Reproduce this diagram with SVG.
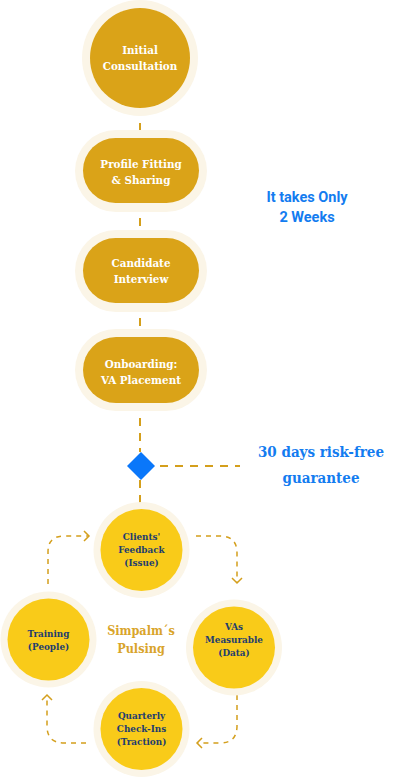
<svg xmlns="http://www.w3.org/2000/svg" width="404" height="778" viewBox="0 0 404 778">
<style>
.ring{fill:#fbf5e7}
.dk{fill:#daa318}
.yl{fill:#f9cb19}
.wt{font-family:"Roboto Slab","DejaVu Serif","Liberation Serif",serif;font-weight:bold;font-size:11.5px;fill:#ffffff;text-anchor:middle;font-stretch:condensed}
.nv{font-family:"Roboto Slab","DejaVu Serif","Liberation Serif",serif;font-weight:bold;font-size:9.8px;fill:#1e3d6f;text-anchor:middle;font-stretch:condensed}
.bl{font-family:"Roboto Slab","DejaVu Serif","Liberation Serif",serif;font-weight:bold;font-size:15px;fill:#137cf0;text-anchor:middle;font-stretch:condensed}
.bs{font-family:Roboto,"Liberation Sans",sans-serif;font-weight:bold;font-size:14.5px;fill:#137cf0;text-anchor:middle}
.gd{font-family:"Roboto Slab","DejaVu Serif","Liberation Serif",serif;font-weight:bold;font-size:12.5px;fill:#d9a42a;text-anchor:middle;font-stretch:condensed}
.main{stroke:#d49f1c;stroke-width:2;fill:none;stroke-dasharray:8 7}
.loop{stroke:#d49f1c;stroke-width:1.5;fill:none;stroke-dasharray:5 5}
.head{stroke:#d49f1c;stroke-width:1.5;fill:none}
</style>

<g id="connectors">
  <path class="main" d="M140 108 V138 M140 203 V238 M140 303 V337 M140 403 V452 M140 480 V509"/>
  <path class="main" d="M160 466 H240" stroke-dasharray="10 7"/>
  <path class="loop" d="M48 584 V552 Q48 536 64 536 H88"/>
  <path class="head" d="M84 531 L89 536 L84 541"/>
  <path class="loop" d="M196 536 H220 Q237 536 237 553 V583"/>
  <path class="head" d="M232 578 L237 583 L242 578"/>
  <path class="loop" d="M237 695 V726 Q237 743 220 743 H198"/>
  <path class="head" d="M202 738 L197 743 L202 748"/>
  <path class="loop" d="M86 743 H64 Q47 743 47 726 V696"/>
  <path class="head" d="M42 700 L47 695 L52 700"/>
</g>

<g id="diamond">
  <path d="M141 452 L155 466 L141 480 L127 466 Z" fill="#0a77fa"/>
</g>

<g id="node-initial">
  <circle class="ring" cx="140" cy="58" r="58"/>
  <circle class="dk" cx="140" cy="58" r="50"/>
  <text class="wt" x="140" y="54">Initial</text>
  <text class="wt" x="140" y="70">Consultation</text>
</g>

<g id="node-profile">
  <rect class="ring" x="75" y="130" width="132" height="82" rx="41"/>
  <rect class="dk" x="83" y="138" width="116" height="65" rx="32.5"/>
  <text class="wt" x="141" y="168">Profile Fitting</text>
  <text class="wt" x="141" y="184">&amp; Sharing</text>
</g>

<g id="node-interview">
  <rect class="ring" x="75" y="230" width="132" height="82" rx="41"/>
  <rect class="dk" x="83" y="238" width="116" height="65" rx="32.5"/>
  <text class="wt" x="141" y="267">Candidate</text>
  <text class="wt" x="141" y="283">Interview</text>
</g>

<g id="node-onboarding">
  <rect class="ring" x="75" y="329" width="132" height="82" rx="41"/>
  <rect class="dk" x="83" y="337" width="116" height="66" rx="33"/>
  <text class="wt" x="141" y="368">Onboarding:</text>
  <text class="wt" x="141" y="384">VA Placement</text>
</g>

<g id="label-weeks">
  <text class="bs" x="307" y="202">It takes Only</text>
  <text class="bs" x="307" y="222">2 Weeks</text>
</g>

<g id="label-guarantee">
  <text class="bl" x="321" y="457">30 days risk-free</text>
  <text class="bl" x="321" y="483">guarantee</text>
</g>

<g id="node-feedback">
  <circle class="ring" cx="141.5" cy="550" r="48"/>
  <circle class="yl" cx="141.5" cy="550" r="41"/>
  <text class="nv" x="141.5" y="540">Clients'</text>
  <text class="nv" x="141.5" y="553">Feedback</text>
  <text class="nv" x="141.5" y="566">(Issue)</text>
</g>

<g id="node-training">
  <circle class="ring" cx="48.5" cy="639.5" r="48"/>
  <circle class="yl" cx="48.5" cy="639.5" r="41"/>
  <text class="nv" x="48.5" y="637">Training</text>
  <text class="nv" x="48.5" y="650">(People)</text>
</g>

<g id="node-measurable">
  <circle class="ring" cx="234" cy="647.5" r="48"/>
  <circle class="yl" cx="234" cy="647.5" r="41"/>
  <text class="nv" x="234" y="630">VAs</text>
  <text class="nv" x="234" y="643">Measurable</text>
  <text class="nv" x="234" y="656">(Data)</text>
</g>

<g id="node-quarterly">
  <circle class="ring" cx="141.5" cy="729" r="48"/>
  <circle class="yl" cx="141.5" cy="729" r="41"/>
  <text class="nv" x="141.5" y="719">Quarterly</text>
  <text class="nv" x="141.5" y="732">Check-Ins</text>
  <text class="nv" x="141.5" y="745">(Traction)</text>
</g>

<g id="label-pulsing">
  <text class="gd" x="141" y="635">Simpalm´s</text>
  <text class="gd" x="141" y="653">Pulsing</text>
</g>
</svg>
